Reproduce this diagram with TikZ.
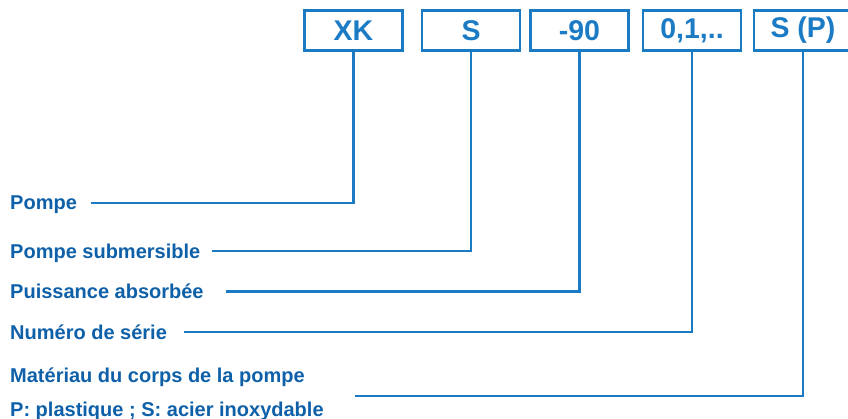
\documentclass[tikz,border=0pt]{standalone}
\usepackage{fontspec}
\setmainfont{Liberation Sans}
\definecolor{lineblue}{HTML}{1A7AC2}
\definecolor{textblue}{HTML}{0E60A8}
\definecolor{boxtext}{HTML}{1B7BC4}
\begin{document}
\begin{tikzpicture}[x=1pt,y=-1pt,
  codebox/.style={draw=lineblue,line width=2.6pt,minimum width=98pt,minimum height=40pt,inner sep=0pt,
    font=\fontsize{28.5}{30}\selectfont\bfseries,text=boxtext},
  lbl/.style={anchor=base west,inner sep=0pt,font=\fontsize{20}{22}\selectfont\bfseries,text=textblue},
  conn/.style={draw=lineblue,line width=2.3pt}]
\useasboundingbox (0,0) rectangle (848,419);
\fill[white] (0,0) rectangle (848,419);
\begin{scope}
\clip (0,0) rectangle (848,419);
\node[codebox] (xk) at (353.5,30.5) {XK};
\node[codebox] (s) at (471,30.5) {S};
\node[codebox] (n90) at (579.5,30.5) {-90};
\node[codebox] (ser) at (692,30.5) {0,1,..};
\node[codebox] (sp) at (803,30.5) {S (P)};
\end{scope}
\node[lbl] (l1) at (10,210) {Pompe};
\node[lbl] (l2) at (10,258.5) {Pompe submersible};
\node[lbl] (l3) at (10,299) {Puissance absorbée};
\node[lbl] (l4) at (10,339) {Numéro de série};
\node[lbl] (l5) at (10,382) {Matériau du corps de la pompe};
\node[lbl] (l6) at (10,416.5) {P: plastique ; S: acier inoxydable};
\coordinate (c1) at (91,203);
\coordinate (c2) at (212,250.7);
\coordinate (c3) at (226,291.5);
\coordinate (c4) at (184,332);
\coordinate (c5) at (355,396);
\draw[conn] (c1) -| (xk.south);
\draw[conn] (c2) -| (s.south);
\draw[conn] (c3) -| (n90.south);
\draw[conn] (c4) -| (ser.south);
\draw[conn] (c5) -| (sp.south);
\end{tikzpicture}
\end{document}
